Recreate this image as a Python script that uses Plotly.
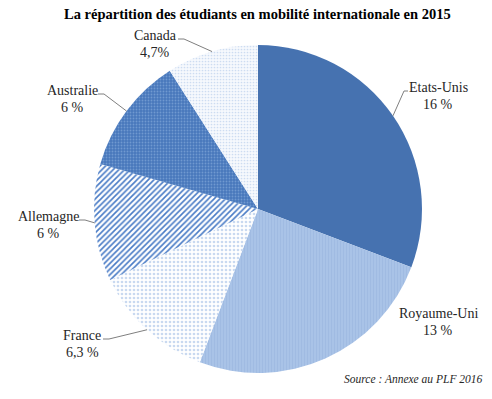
import math
import plotly.graph_objects as go

# ---- data ----
countries = ["Etats-Unis", "Royaume-Uni", "France", "Allemagne", "Australie", "Canada"]
values = [16, 13, 6.3, 6, 6, 4.7]
value_labels = ["16 %", "13 %", "6,3 %", "6 %", "6 %", "4,7%"]
title_text = "La répartition des étudiants en mobilité internationale en 2015"
source_text = "Source : Annexe au PLF 2016"

# ---- styles ----
W, H = 492, 399
CX, CY, R = 258, 209, 164
FONT = "Liberation Serif, DejaVu Serif, serif"

pattern_shapes = ["", "|", ".", "/", ".", "."]
fg_colors = ["#4672b0", "#9db8e0", "#c9d9f0", "#4a7cc6", "#7099d0", "#cddcf1"]
bg_colors = ["#4672b0", "#a9c3e7", "#ffffff", "#ffffff", "#4878bc", "#f6f9fd"]
pattern_sizes = [6, 3, 4, 4, 3, 3]
solidity = [0.3, 0.25, 0.35, 0.4, 0.3, 0.25]

# label anchor positions (px) and leader side
label_pos = {
    "Etats-Unis": (438, 87, "right"),
    "Royaume-Uni": (438, 313, None),
    "France": (82, 335, "left"),
    "Allemagne": (48, 216, "left"),
    "Australie": (72, 90, "left"),
    "Canada": (155, 35, "left"),
}
text_half_w = {"Etats-Unis": 29, "France": 20, "Allemagne": 30, "Australie": 25, "Canada": 22}


def px(x):
    return x / W


def py(y):
    return 1 - y / H


fig = go.Figure(go.Pie(
    labels=countries,
    values=values,
    sort=False,
    direction="clockwise",
    rotation=0,
    textinfo="none",
    hoverinfo="label+value",
    marker=dict(
        colors=bg_colors,
        line=dict(width=0),
        pattern=dict(shape=pattern_shapes, fgcolor=fg_colors, bgcolor=bg_colors,
                     size=pattern_sizes, solidity=solidity, fillmode="replace"),
    ),
    domain=dict(x=[px(CX - R), px(CX + R)], y=[py(CY + R), py(CY - R)]),
    showlegend=False,
))

annotations = []
shapes = []
total = sum(values)
cum = 0
for name, v, vl in zip(countries, values, value_labels):
    mid = (cum + v / 2) / total * 2 * math.pi
    cum += v
    ex = CX + R * math.sin(mid)
    ey = CY - R * math.cos(mid)
    tx, ty, side = label_pos[name]
    annotations.append(dict(x=px(tx), y=py(ty), xref="paper", yref="paper",
                            text=name, showarrow=False, xanchor="center", yanchor="middle",
                            font=dict(family=FONT, size=14, color="#262626")))
    annotations.append(dict(x=px(tx), y=py(ty + 17), xref="paper", yref="paper",
                            text=vl, showarrow=False, xanchor="center", yanchor="middle",
                            font=dict(family=FONT, size=14, color="#262626")))
    if side:
        hw = text_half_w[name]
        sx = tx + hw + 1 if side == "left" else tx - hw - 1
        hx = sx + 6 if side == "left" else sx - 4
        sy = ty + 4
        shapes.append(dict(type="path", xref="paper", yref="paper",
                           path=f"M {px(sx)},{py(sy)} L {px(hx)},{py(sy)} L {px(ex)},{py(ey)}",
                           line=dict(color="#7f7f7f", width=1)))

annotations.append(dict(x=px(257), y=py(14), xref="paper", yref="paper", text="<b>" + title_text + "</b>",
                        showarrow=False, xanchor="center", yanchor="middle",
                        font=dict(family=FONT, size=14.5, color="#000000")))
annotations.append(dict(x=px(413), y=py(379), xref="paper", yref="paper", text="<i>" + source_text + "</i>",
                        showarrow=False, xanchor="center", yanchor="middle",
                        font=dict(family=FONT, size=11.5, color="#262626")))

fig.update_layout(
    width=W, height=H,
    margin=dict(l=0, r=0, t=0, b=0),
    paper_bgcolor="white", plot_bgcolor="white",
    annotations=annotations, shapes=shapes,
)
fig.write_html("out.html", config={"displayModeBar": False},
               post_script="document.body.style.margin='0';document.body.style.overflow='hidden';")
